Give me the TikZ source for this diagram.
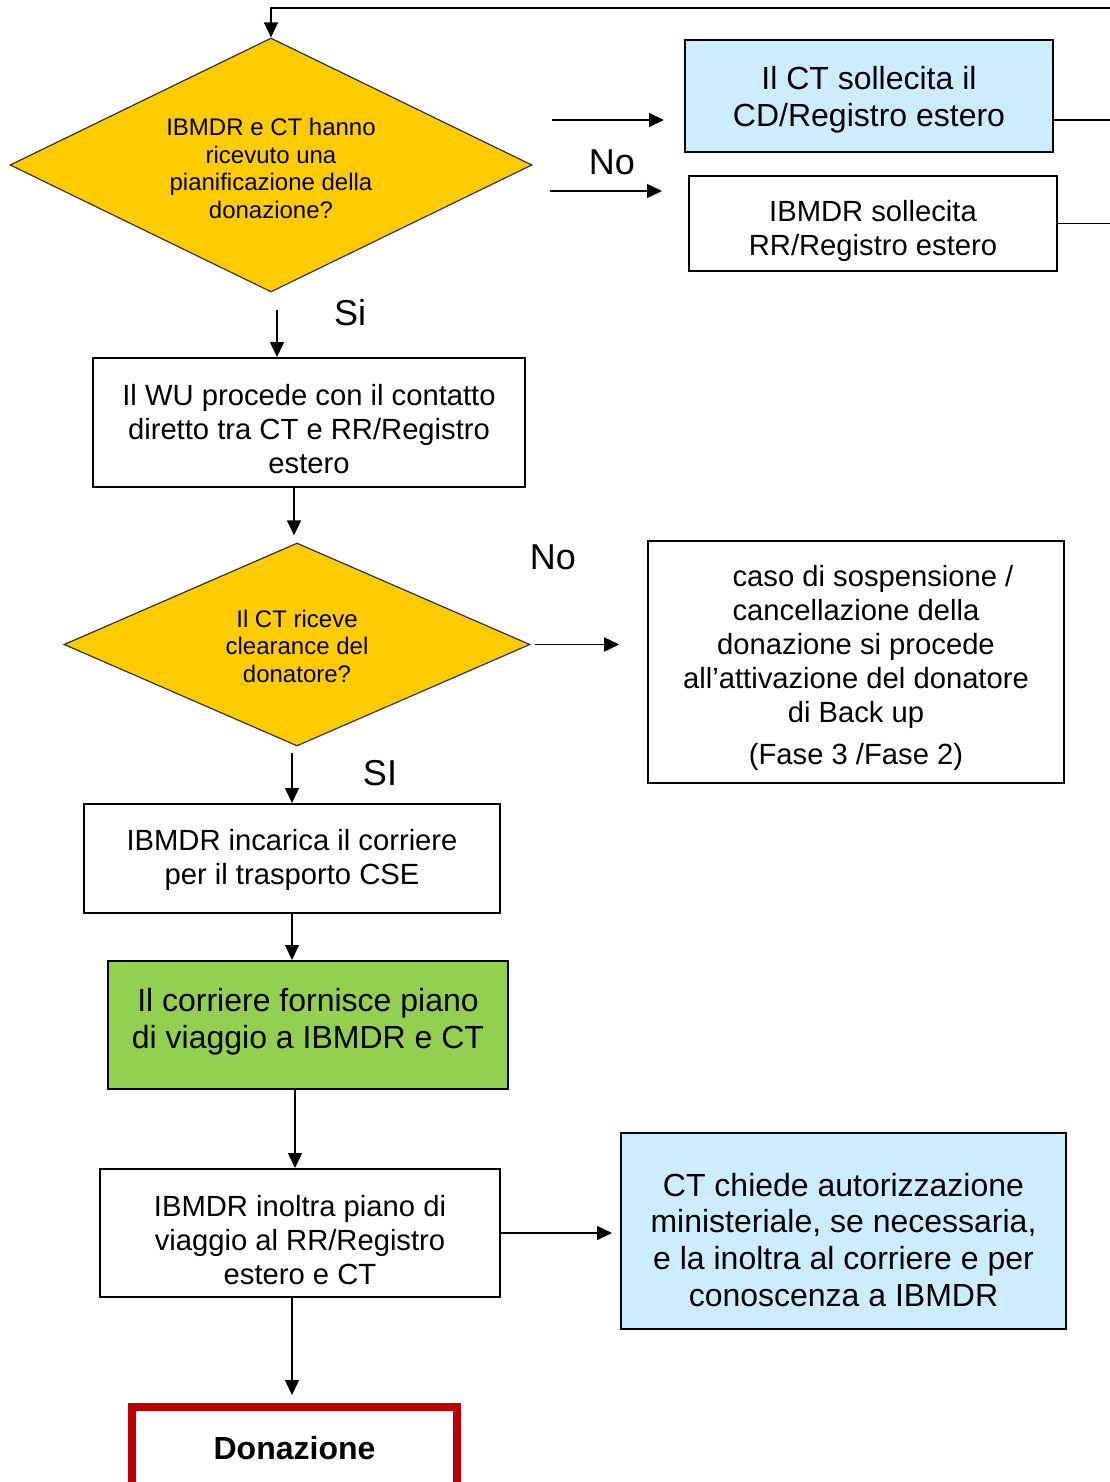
\documentclass[tikz,border=0pt]{standalone}
\usepackage{fontspec}
\setmainfont{Liberation Sans}
\usetikzlibrary{shapes.geometric,arrows.meta}

\definecolor{decyellow}{HTML}{FFCC00}
\definecolor{ctblue}{HTML}{CCECFF}
\definecolor{plangreen}{HTML}{92D050}
\definecolor{donred}{HTML}{C00000}

% invisible strut that pushes a text block down a little
\newcommand{\txtdown}[1]{\rule{0pt}{#1}}

\begin{document}
\begin{tikzpicture}[x=0.5pt,y=-0.5pt,
  box/.style={draw, line width=1pt, align=center, inner sep=0pt, font=\fontsize{14.6}{17}\selectfont},
  bigbox/.style={box, font=\fontsize{16}{18.4}\selectfont},
  decision/.style={diamond, draw=black!80, line width=0.6pt, fill=decyellow, align=center, inner sep=0pt, font=\fontsize{12}{13.75}\selectfont},
  arr/.style={line width=0.8pt, -{Triangle[length=7.5pt,width=7pt]}},
  answer/.style={font=\fontsize{18}{20}\selectfont}]

\useasboundingbox (0,0) rectangle (1109,1482);

% first question and the two reminders
\node [decision, aspect=2.06, minimum width=261pt, minimum height=127pt] (plan) at (271,165)
  {\txtdown{12.1pt}IBMDR e CT hanno\\ricevuto una\\pianificazione della\\donazione?};
\node [bigbox, fill=ctblue, minimum width=184pt, minimum height=56pt] (ctsoll) at (869,96)
  {\txtdown{15.5pt}Il CT sollecita il\\CD/Registro estero};
\node [box, minimum width=184pt, minimum height=47.5pt] (ibsoll) at (873,223.5)
  {\txtdown{18.5pt}IBMDR sollecita\\RR/Registro estero};
\node [answer] (no1) at (612,162) {No};
\node [answer] (si1) at (350,313) {Si};

\coordinate (noa) at (552,120);
\coordinate (nob) at (550,191);
\coordinate (loop) at (1130,8);
\draw [arr, shorten >=10pt] (noa) -- (noa -| ctsoll.west);
\draw [arr, shorten >=13pt] (nob) -- (nob -| ibsoll.west);
\draw [line width=0.8pt] (ibsoll.east) -| (loop);
\draw [arr] ([yshift=-12pt]ctsoll.east) -| (loop) -| (plan.north);

% contact and clearance
\node [box, minimum width=216pt, minimum height=64.5pt] (wu) at (309,422.5)
  {\txtdown{17.5pt}Il WU procede con il contatto\\diretto tra CT e RR/Registro\\estero};
\coordinate (sia) at (277,310);
\draw [arr] (sia) -- (sia |- wu.north);

\node [decision, aspect=2.3, minimum width=233pt, minimum height=101.5pt] (clear) at (297,644.5)
  {\txtdown{10.6pt}Il CT riceve\\clearance del\\donatore?};
\draw [arr, shorten >=3.5pt] ([xshift=-7.5pt]wu.south) -- ([xshift=-7.5pt]wu.south |- clear.north);

\node [box, line width=0.8pt, minimum width=208pt, minimum height=121pt] (backup) at (856,662)
  {\hspace*{17pt}\txtdown{17pt}caso di sospensione /\\cancellazione della\\donazione si procede\\all’attivazione del donatore\\di Back up\\[4pt](Fase 3 /Fase 2)};
\node [answer] (no2) at (553,557) {No};
\draw [arr, shorten <=2pt, shorten >=14pt] (clear.east) -- (clear.east -| backup.west);

\node [answer] (si2) at (380,773) {SI};

% transport
\node [box, minimum width=208pt, minimum height=54.5pt] (courier) at (292,858.5)
  {\txtdown{12.5pt}IBMDR incarica il corriere\\per il trasporto CSE};
\draw [arr, shorten <=3pt] ([xshift=-2.5pt]clear.south) -- ([xshift=-2.5pt]clear.south |- courier.north);

\node [bigbox, fill=plangreen, minimum width=200pt, minimum height=64pt] (travel) at (308,1025)
  {Il corriere fornisce piano\\di viaggio a IBMDR e CT\rule[-6.4pt]{0pt}{0pt}};
\draw [arr] (courier.south) -- (courier.south |- travel.north);

\node [box, minimum width=200pt, minimum height=64pt] (forward) at (300,1233)
  {\txtdown{17.5pt}IBMDR inoltra piano di\\viaggio al RR/Registro\\estero e CT};
\draw [arr] ([xshift=-6.5pt]travel.south) -- ([xshift=-6.5pt]travel.south |- forward.north);

\node [bigbox, fill=ctblue, minimum width=222.5pt, minimum height=98pt] (auth) at (843.5,1231)
  {\txtdown{20.5pt}CT chiede autorizzazione\\ministeriale, se necessaria,\\e la inoltra al corriere e per\\conoscenza a IBMDR};
\draw [arr, shorten >=4pt] (forward.east) -- (forward.east -| auth.west);

% end
\node [draw=donred, line width=4pt, inner sep=0pt, minimum width=162.5pt, minimum height=41pt,
  font=\fontsize{16}{18}\selectfont\bfseries] (don) at (294.5,1448) {Donazione};
\draw [arr, shorten >=4pt] ([xshift=-4pt]forward.south) -- ([xshift=-4pt]forward.south |- don.north);

\end{tikzpicture}
\end{document}
